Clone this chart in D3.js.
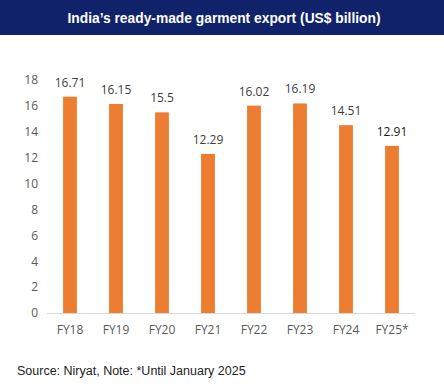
<!DOCTYPE html>
<html><head><meta charset="utf-8">
<script src="https://cdn.jsdelivr.net/npm/d3@7"></script>
<style>body{margin:0;background:#fff}</style>
</head><body>
<script>
const categories = ["FY18","FY19","FY20","FY21","FY22","FY23","FY24","FY25*"];
const values = [16.71,16.15,15.5,12.29,16.02,16.19,14.51,12.91];
const valueLabels = ["16.71","16.15","15.5","12.29","16.02","16.19","14.51","12.91"];
const yTicks = [0,2,4,6,8,10,12,14,16,18];
const title = "India’s ready-made garment export (US$ billion)";
const source = "Source: Niryat, Note: *Until January 2025";

const W=444,H=388;
const svg=d3.select("body").append("svg").attr("width",W).attr("height",H);
svg.append("rect").attr("x",0).attr("y",0).attr("width",W).attr("height",35).attr("fill","#0F226A");
svg.append("text").attr("x",224).attr("y",22.5).attr("text-anchor","middle")
  .attr("font-family","Liberation Sans, Arial, sans-serif").attr("font-weight","bold").attr("font-size",13.8)
  .attr("fill","#fff").text(title);

const x=d3.scaleBand().domain(categories).range([47,415]).paddingInner(0.7).paddingOuter(0.35);
const y=d3.scaleLinear().domain([0,18]).range([313,80]);

const font="'Open Sans', sans-serif";
const yAxis=svg.append("g").attr("transform","translate(47,0)")
  .call(d3.axisLeft(y).tickValues(yTicks).tickSize(0).tickPadding(9));
yAxis.select(".domain").remove();
yAxis.selectAll("text").attr("font-family",font).attr("font-size",12).attr("fill","#595959");

svg.append("line").attr("x1",47).attr("x2",415).attr("y1",313.5).attr("y2",313.5).attr("stroke","#d9d9d9").attr("stroke-width",1);

svg.selectAll("rect.bar").data(values).join("rect").attr("class","bar")
  .attr("x",(d,i)=>x(categories[i])).attr("width",x.bandwidth())
  .attr("y",d=>y(d)).attr("height",d=>y(0)-y(d)).attr("fill","#ED7D31");

svg.selectAll("text.val").data(values).join("text").attr("class","val")
  .attr("x",(d,i)=>x(categories[i])+x.bandwidth()/2).attr("y",d=>y(d)-10)
  .attr("text-anchor","middle").attr("font-family",font).attr("font-size",12)
  .attr("fill",(d,i)=>i===values.length-1?"#1a1a1a":"#404040").text((d,i)=>valueLabels[i]);

const xAxis=svg.append("g").attr("transform","translate(0,313)")
  .call(d3.axisBottom(x).tickSize(0).tickPadding(12));
xAxis.select(".domain").remove();
xAxis.selectAll("text").attr("font-family",font).attr("font-size",12).attr("fill","#595959");

svg.append("text").attr("x",17).attr("y",375).attr("font-family","Liberation Sans, Arial, sans-serif")
  .attr("font-size",12.5).attr("fill","#222").text(source);
</script>
</body></html>
